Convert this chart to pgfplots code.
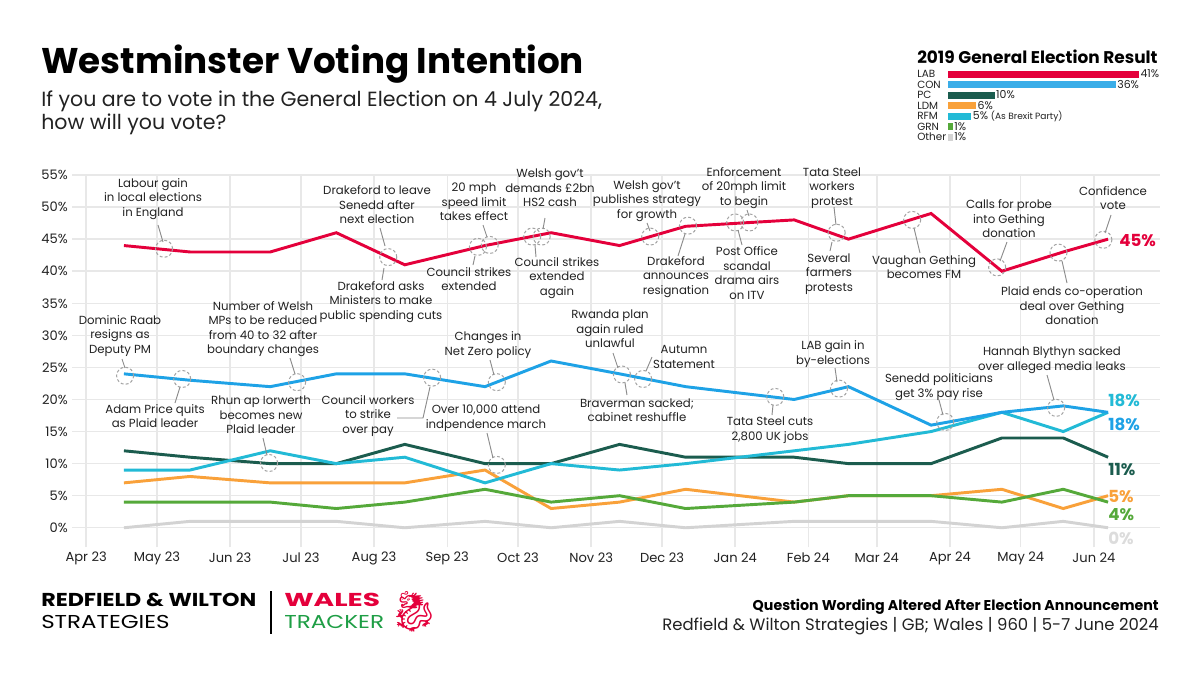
\documentclass[border=0pt]{standalone}
\usepackage{graphicx}
\usepackage{fontspec}
\setmainfont{Poppins}
\newfontfamily\emojifont{Noto Emoji}
\usepackage{pgfplots}
\pgfplotsset{compat=1.18}
\usepackage{pgfplotstable}

\definecolor{lab}{HTML}{E4003B}
\definecolor{con}{HTML}{1EA2E6}
\definecolor{conbar}{HTML}{3AADE8}
\definecolor{pc}{HTML}{1B5C4E}
\definecolor{ldm}{HTML}{F9A13A}
\definecolor{rfm}{HTML}{22BAD6}
\definecolor{grn}{HTML}{55A93A}
\definecolor{oth}{HTML}{D3D3D3}
\definecolor{gridc}{HTML}{E8E8E8}
\definecolor{txt}{HTML}{222222}
\definecolor{lead}{HTML}{8C8C8C}
\definecolor{tracker}{HTML}{1E9E45}

\pgfplotstableread{
day LAB CON RFM PC LDM GRN OTH
16  44 24 9  12 7 4 0
44  43 23 9  11 8 4 1
78  43 22 12 10 7 4 1
106 46 24 10 10 7 3 1
135 41 24 11 13 7 4 0
169 44 22 7  10 9 6 1
197 46 26 10 10 3 4 0
226 44 24 9  13 4 5 1
254 47 22 10 11 6 3 0
300 48 20 12 11 4 4 1
323 45 22 13 10 5 5 1
358 49 16 15 10 5 5 1
388 40 18 18 14 6 4 0
414 43 19 15 14 3 6 1
433 45 18 18 11 5 4 0
}\polls

\newcommand\annfont{\fontsize{8.8}{10.9}\selectfont}

\begin{document}
\begin{tikzpicture}[x=0.75pt,y=-0.75pt,
  ann/.style={align=center, font=\annfont, text=txt, inner sep=0pt},
  ld/.style={draw=lead, line width=0.7pt},
  circ/.style={draw=lead!80, line width=0.75pt, dash pattern=on 2.2pt off 1.6pt}]
\useasboundingbox[fill=white] (0,0) rectangle (1200,675);
\coordinate (mainSW) at (72,547);
\coordinate (insetNW) at (948,68.75);

% title
\node[anchor=west, inner sep=0pt, font=\bfseries\fontsize{26.8}{32}\selectfont, text=black] at (41,64) {Westminster Voting Intention};
\node[anchor=west, inner sep=0pt, align=left, font=\fontsize{15.4}{17.25}\selectfont, text=txt] at (41,112.5) {If you are to vote in the General Election on 4 July 2024,\\how will you vote?};

% main axis
\begin{axis}[at={(mainSW)}, anchor=south west, scale only axis,
  width=816pt, height=279pt,
  xmin=-6, xmax=455, ymin=-3, ymax=55,
  axis line style={draw=none}, major tick length=0pt,
  grid=major, grid style={color=gridc, line width=1.1pt},
  xtick={0,30,61,91,122,153,183,214,244,275,306,335,366,396,427},
  xticklabels={Apr 23,May 23,Jun 23,Jul 23,Aug 23,Sep 23,Oct 23,Nov 23,Dec 23,Jan 24,Feb 24,Mar 24,Apr 24,May 24,Jun 24},
  ytick={0,5,...,55},
  yticklabels={0\%,5\%,10\%,15\%,20\%,25\%,30\%,35\%,40\%,45\%,50\%,55\%},
  ticklabel style={font=\fontsize{9.8}{11}\selectfont, text=txt},
  xticklabel style={anchor=center, inner sep=0pt, yshift=-8.25pt},
  yticklabel style={anchor=east, inner sep=0pt, xshift=-3pt},
  clip=false]
\addplot[oth, line width=2.2pt] table[x=day,y=OTH] {\polls};
\addplot[ldm, line width=2.2pt] table[x=day,y=LDM] {\polls};
\addplot[grn, line width=2.2pt] table[x=day,y=GRN] {\polls};
\addplot[pc, line width=2.2pt] table[x=day,y=PC] {\polls};
\addplot[rfm, line width=2.2pt] table[x=day,y=RFM] {\polls};
\addplot[con, line width=2.2pt] table[x=day,y=CON] {\polls};
\addplot[lab, line width=2.2pt] table[x=day,y=LAB] {\polls};
% annotation circles
\foreach \d/\v in {33/43.5, 128/42.2, 166/43.8, 171/44.1, 189/45.4, 193/45.4, 239/45.4, 255/47.1, 275/47.6, 281/47.6, 318/46.0, 350/48.0, 386/40.6, 412/42.9, 431/44.9,
  16.5/23.7, 40.7/23.2, 89.4/22.7, 77.5/10.1, 146.6/23.4, 174/22.7, 174/9.8, 227/23.9, 236/23.2, 292/20.4, 319/21.7, 364/16.5, 411/18.7}
  {\edef\temp{\noexpand\draw[circ] (axis cs:\d,\v) circle[radius=6.4pt];}\temp}
\end{axis}

% inset: 2019 result
\node[anchor=west, inner sep=0pt, font=\bfseries\fontsize{12.7}{14}\selectfont] at (917,57) {2019 General Election Result};
\begin{axis}[at={(insetNW)}, anchor=north west, scale only axis,
  width=143.25pt, height=55.125pt,
  xmin=0, xmax=41, ymin=-0.5, ymax=6.5, y dir=reverse,
  xbar, bar width=5.25pt,
  axis line style={draw=none}, major tick length=0pt,
  xtick=\empty, ytick={0,...,6},
  yticklabels={LAB,CON,PC,LDM,RFM,GRN,Other},
  yticklabel style={anchor=west, inner sep=0pt, xshift=-23.25pt, font=\fontsize{7.8}{9}\selectfont, text=txt},
  every node near coord/.append style={anchor=west, inner sep=1pt, font=\fontsize{8.2}{9}\selectfont, text=txt},
  clip=false]
\addplot[fill=lab, draw=none, bar shift=0pt, nodes near coords={41\%}] coordinates {(41,0)};
\addplot[fill=conbar, draw=none, bar shift=0pt, nodes near coords={36\%}] coordinates {(36,1)};
\addplot[fill=pc, draw=none, bar shift=0pt, nodes near coords={10\%}] coordinates {(10,2)};
\addplot[fill=ldm, draw=none, bar shift=0pt, nodes near coords={6\%}] coordinates {(6,3)};
\addplot[fill=rfm, draw=none, bar shift=0pt, nodes near coords={5\% {\fontsize{6.8}{7}\selectfont (As Brexit Party)}}] coordinates {(5,4)};
\addplot[fill=grn, draw=none, bar shift=0pt, nodes near coords={1\%}] coordinates {(1,5)};
\addplot[fill=oth, draw=none, bar shift=0pt, nodes near coords={1\%}] coordinates {(1,6)};
\end{axis}

% end labels
\begin{scope}[every node/.style={anchor=west, inner sep=0pt, font=\bfseries\fontsize{12.5}{14}\selectfont}]
\node[text=lab] at (1119,240) {45\%};
\node[text=rfm] at (1108,400) {18\%};
\node[text=con] at (1108,424) {18\%};
\node[text=pc] at (1108,470) {11\%};
\node[text=ldm] at (1108,496) {5\%};
\node[text=grn] at (1108,515) {4\%};
\node[text=oth!80] at (1108,538) {0\%};
\end{scope}

% annotations: text
\node[ann] at (153,199) {Labour gain\\in local elections\\in England};
\node[ann] at (377,205) {Drakeford to leave\\Senedd after\\next election};
\node[ann] at (381,302) {Drakeford asks\\Ministers to make\\public spending cuts};
\node[ann] at (474,202) {20 mph\\speed limit\\takes effect};
\node[ann] at (469,279) {Council strikes\\extended};
\node[ann] at (550,188) {Welsh gov't\\demands £2bn\\HS2 cash};
\node[ann] at (557,278) {Council strikes\\extended\\again};
\node[ann] at (647,201) {Welsh gov't\\publishes strategy\\for growth};
\node[ann] at (676,277) {Drakeford\\announces\\resignation};
\node[ann] at (744,188) {Enforcement\\of 20mph limit\\to begin};
\node[ann] at (747,273) {Post Office\\scandal\\drama airs\\on ITV};
\node[ann] at (832,188) {Tata Steel\\workers\\protest};
\node[ann] at (829,274) {Several\\farmers\\protests};
\node[ann] at (924,267) {Vaughan Gething\\becomes FM};
\node[ann] at (1009,219) {Calls for probe\\into Gething\\donation};
\node[ann] at (1072,306) {Plaid ends co-operation\\deal over Gething\\donation};
\node[ann] at (1113,198) {Confidence\\vote};
\node[ann] at (120,336) {Dominic Raab\\resigns as\\Deputy PM};
\node[ann] at (155,416) {Adam Price quits\\as Plaid leader};
\node[ann] at (263,329) {Number of Welsh\\MPs to be reduced\\from 40 to 32 after\\boundary changes};
\node[ann] at (261,415) {Rhun ap Iorwerth\\becomes new\\Plaid leader};
\node[ann] at (368,416) {Council workers\\to strike\\over pay};
\node[ann] at (488,345) {Changes in\\Net Zero policy};
\node[ann] at (486,418) {Over 10,000 attend\\indpendence march};
\node[ann] at (610,329) {Rwanda plan\\again ruled\\unlawful};
\node[ann] at (684,357) {Autumn\\Statement};
\node[ann] at (637,410) {Braverman sacked;\\cabinet reshuffle};
\node[ann] at (770,430) {Tata Steel cuts\\2,800 UK jobs};
\node[ann] at (833,354) {LAB gain in\\by-elections};
\node[ann] at (939,387) {Senedd politicians\\get 3\% pay rise};
\node[ann] at (1052,360) {Hannah Blythyn sacked\\over alleged media leaks};

% leader lines
\draw[ld] (158,225)--(163,242);
\draw[ld] (380,228)--(385,246);
\draw[ld] (384,268)--(382,280);
\draw[ld] (483,225)--(487,237);
\draw[ld] (475,256)--(473,265);
\draw[ld] (545,218)--(543,229);
\draw[ld] (535,245)--(536,257);
\draw[ld] (647,223)--(650,231);
\draw[ld] (685,234)--(678,256);
\draw[ld] (747,210)--(749,216);
\draw[ld] (738,230)--(742,245);
\draw[ld] (834,207)--(836,225);
\draw[ld] (832,242)--(830,251);
\draw[ld] (914,228)--(920,253);
\draw[ld] (1007,242)--(1000,261);
\draw[ld] (1062,261)--(1067,283);
\draw[ld] (1111,215)--(1105,233);
\draw[ld] (122,359)--(125,368);
\draw[ld] (180,387)--(175,403);
\draw[ld] (290,358)--(295,374);
\draw[ld] (263,438)--(267,455);
\draw[ld] (397,418)--(423,418)--(430,387);
\draw[ld] (490,360)--(494,375);
\draw[ld] (487,433)--(493,458);
\draw[ld] (613,353)--(618,368);
\draw[ld] (652,357)--(646,371);
\draw[ld] (625,383)--(627,395);
\draw[ld] (773,405)--(772,415);
\draw[ld] (835,368)--(837,382);
\draw[ld] (939,400)--(943,415);
\draw[ld] (1047,375)--(1054,400);

% footer
\node[anchor=west, inner sep=0pt, font=\bfseries\fontsize{14}{15}\selectfont] at (41,600) {\scalebox{1.19}[1]{REDFIELD \& WILTON}};
\node[anchor=west, inner sep=0pt, font=\fontsize{14}{15}\selectfont] at (41,622) {\scalebox{1.23}[1]{STRATEGIES}};
\draw[line width=1.9pt] (271,591)--(271,634);
\node[anchor=west, inner sep=0pt, text=lab, font=\bfseries\fontsize{14}{15}\selectfont] at (284,600) {\scalebox{1.5}[1]{WALES}};
\node[anchor=west, inner sep=0pt, text=tracker, font=\fontsize{14}{15}\selectfont] at (284,622) {\scalebox{1.24}[1]{TRACKER}};
\node[text=lab, inner sep=0pt, font=\emojifont\fontsize{30}{32}\selectfont] at (414,612) {🐉};
\node[anchor=east, inner sep=0pt, font=\bfseries\fontsize{10.65}{12}\selectfont] at (1159,607) {Question Wording Altered After Election Announcement};
\node[anchor=east, inner sep=0pt, font=\fontsize{12.35}{14}\selectfont, text=txt] at (1159,626) {Redfield \& Wilton Strategies | GB; Wales | 960 | 5-7 June 2024};
\end{tikzpicture}
\end{document}
